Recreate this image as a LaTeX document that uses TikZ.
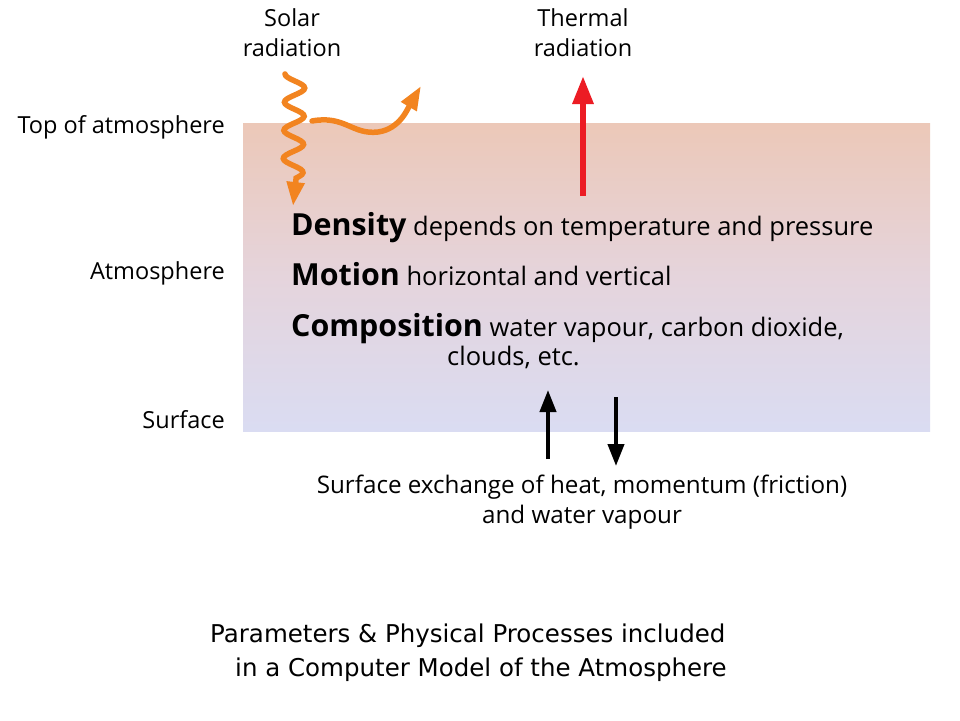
\documentclass[tikz,border=0pt]{standalone}
\usepackage{fontspec}
\setmainfont{Open Sans}
\newfontfamily\titlefont{DejaVu Sans}
\usetikzlibrary{arrows.meta}
\definecolor{atmtop}{RGB}{236,200,184}
\definecolor{atmmid}{RGB}{229,212,220}
\definecolor{atmbot}{RGB}{218,220,242}
\definecolor{solar}{RGB}{242,132,32}
\definecolor{thermal}{RGB}{236,28,36}
\newcommand\kwfont{\fontsize{30.4}{32}\selectfont\bfseries}
\tikzset{
  lbl/.style={font=\fontsize{23.5}{26}\selectfont, inner sep=0pt},
  exlbl/.style={font=\fontsize{24.2}{26}\selectfont, inner sep=0pt},
  body/.style={font=\fontsize{25.5}{30}\selectfont, inner sep=0pt, anchor=base west},
  ttl/.style={font=\titlefont\fontsize{24.5}{28}\selectfont, inner sep=0pt, anchor=base west},
  solararrow/.style={solar, line width=5.5pt, line cap=round, -{Triangle[length=24pt,width=17pt]}},
  bigarrow/.style={line width=6pt, -{Triangle[length=28pt,width=20pt]}},
  blackarrow/.style={black, line width=4pt, -{Triangle[length=22pt,width=16pt]}}
}
\begin{document}
\begin{tikzpicture}[x=1pt,y=-1pt]
\useasboundingbox (0,0) rectangle (960,720);
\fill[white] (0,0) rectangle (960,720);
% atmosphere box
\shade[top color=atmtop, bottom color=atmbot, middle color=atmmid] (243,123) rectangle (930,431);
% side labels
\node[lbl, anchor=east] (toa) at (225,127) {Top of atmosphere};
\node[lbl, anchor=east] (atm) at (225,273) {Atmosphere};
\node[lbl, anchor=east] (sfc) at (225,420) {Surface};
% top labels
\node[lbl, align=center] (solarlbl) at (292,33) {Solar\\[4pt]radiation};
\node[lbl, align=center] (thermlbl) at (583,33) {Thermal\\[4pt]radiation};
% thermal arrow
\coordinate (thbot) at (583,196);
\coordinate (thtop) at (583,76);
\draw[bigarrow, thermal] (thbot) -- (thtop);
% solar wavy arrow
\draw[solararrow] plot[smooth, samples=60, domain=0:104] ({295-10*cos(\x*12.8)-(\x/50)}, {74+\x}) -- (293,206);
% reflected squiggle
\coordinate (rs) at (312,121);
\coordinate (re) at (421,86);
\draw[solararrow] (rs) .. controls (345,115) and (352,135) .. (378,132) .. controls (400,129) and (408,108) .. (re);
% body text
\node[body] (dens) at (291,235) {{\kwfont Density} depends on temperature and pressure};
\node[body] (mot) at (291,285) {{\kwfont Motion} horizontal and vertical};
\node[body] (comp) at (291,336) {{\kwfont Composition} water vapour, carbon dioxide,};
\node[body] (clouds) at (447,365) {clouds, etc.};
% surface exchange arrows
\coordinate (ub) at (548,459);
\coordinate (ut) at (548,390);
\coordinate (dt) at (616,397);
\coordinate (db) at (616,466);
\draw[blackarrow] (ub) -- (ut);
\draw[blackarrow] (dt) -- (db);
\node[exlbl, align=center] (exch) at (582,502) {Surface exchange of heat, momentum (friction)\\[4pt]and water vapour};
% title
\node[ttl] (t1) at (210,642) {Parameters \& Physical Processes included};
\node[ttl] (t2) at (235,676) {in a Computer Model of the Atmosphere};
\end{tikzpicture}
\end{document}
